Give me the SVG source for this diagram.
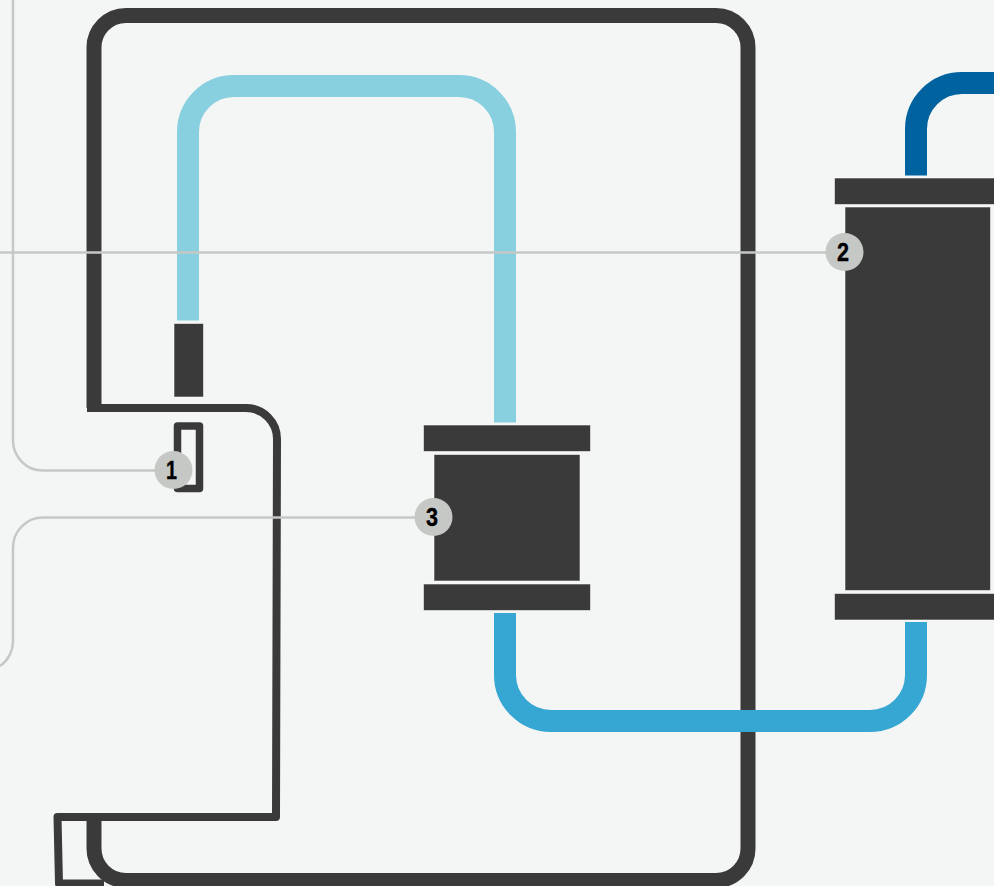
<svg xmlns="http://www.w3.org/2000/svg" width="994" height="886" viewBox="0 0 994 886">
<style>
.d{fill:#3a3a3a;stroke:#fff;stroke-opacity:.55;stroke-width:1}
.p{fill:none;stroke-linecap:butt}
.g{fill:none;stroke:#c6c8c6;stroke-width:2.5}
.b{fill:#c6c8c6}
.t{font-family:"Liberation Sans",Arial,sans-serif;font-weight:700;font-size:25px;fill:#000;stroke:#000;stroke-width:.4;text-anchor:middle}
</style>
<rect width="994" height="886" fill="#f4f6f5"/>
<g id="connectors">
<path id="frame" class="p" stroke="#3a3a3a" stroke-width="15" d="M94 408V48A32 32 0 0 1 126 15.500H716A32 32 0 0 1 748 48V848A32 32 0 0 1 716 880.500H126A32 32 0 0 1 94 848V817"/>
<path id="return-line" class="p" stroke="#3a3a3a" stroke-width="8" stroke-linejoin="round" d="M87 408H246A31 31 0 0 1 277 439L276 817H57.500L59 883.500H104"/>
<path id="pipe-light" class="p" stroke="#88d0df" stroke-width="22" d="M188 320.500V132A46 46 0 0 1 234 86H459A46 46 0 0 1 505 132V422.500"/>
<path id="pipe-mid" class="p" stroke="#36a6d2" stroke-width="22" d="M505 613V675A46 46 0 0 0 551 721H870A46 46 0 0 0 916 675V622"/>
<path id="pipe-dark" class="p" stroke="#00639f" stroke-width="22" d="M916 175.500V129A46 46 0 0 1 962 83H994"/>
<path id="leader-1" class="g" d="M13 0V440A30 30 0 0 0 43 470.500H160"/>
<path id="leader-2" class="g" d="M0 252.500H830"/>
<path id="leader-3" class="g" d="M0 666A30 30 0 0 0 13 640V547.500A30 30 0 0 1 43 517.500H420"/>
</g>
<g id="sensor"><rect class="d" x="174" y="323.500" width="29.500" height="73.500"/></g>
<g id="bracket"><rect x="177.500" y="426" width="22" height="62.500" fill="none" stroke="#3a3a3a" stroke-width="7.500" stroke-linejoin="round"/></g>
<g id="filter-small">
<rect class="d" x="423.500" y="425" width="167" height="26.500"/>
<rect class="d" x="434" y="454.500" width="146" height="126.500"/>
<rect class="d" x="423.500" y="584" width="167" height="26.500"/>
</g>
<g id="filter-large">
<rect class="d" x="834.500" y="178" width="165" height="26.500"/>
<rect class="d" x="845" y="207" width="145.500" height="383.500"/>
<rect class="d" x="834.500" y="593.500" width="165" height="26.500"/>
</g>
<g id="badge-1"><circle class="b" cx="173.500" cy="470" r="19"/><text class="t" x="171.500" y="479" textLength="11" lengthAdjust="spacingAndGlyphs">1</text></g>
<g id="badge-2"><circle class="b" cx="844.500" cy="252" r="19"/><text class="t" x="843" y="261" textLength="12" lengthAdjust="spacingAndGlyphs">2</text></g>
<g id="badge-3"><circle class="b" cx="433.500" cy="517" r="19"/><text class="t" x="432" y="526" textLength="12" lengthAdjust="spacingAndGlyphs">3</text></g>
</svg>
